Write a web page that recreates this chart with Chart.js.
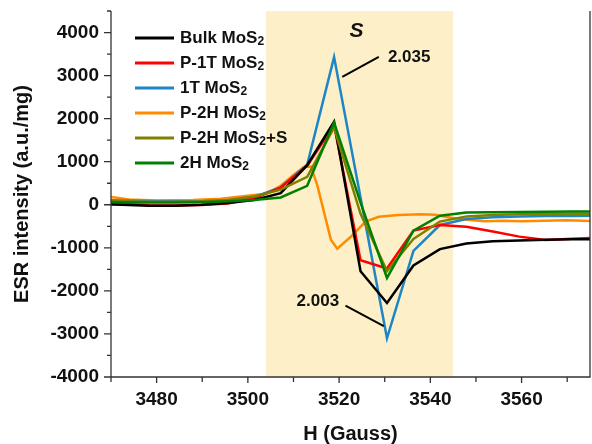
<!DOCTYPE html>
<html>
<head>
<meta charset="utf-8">
<script src="https://cdn.jsdelivr.net/npm/chart.js@4.4.1/dist/chart.umd.min.js"></script>
<style>
html, body { margin: 0; padding: 0; background: #fff; }
</style>
</head>
<body>
<canvas id="esr" width="592" height="444"></canvas>
<script>
// magnetic field (Gauss), shared by most samples
var field = [3466.6, 3472.4, 3478.2, 3484.0, 3489.8, 3495.6, 3501.4, 3507.2, 3513.0, 3518.9,
             3524.7, 3530.5, 3536.3, 3542.1, 3547.9, 3553.7, 3559.5, 3565.3, 3571.1, 3576.9];

var bulk  = [10, 0, -20, -20, 0, 40, 110, 270, 920, 1930, -1545, -2280, -1410, -1030, -900, -850, -830, -815, -800, -800];
var p1T   = [80, 30, -10, -15, -5, 30, 150, 400, 900, 1850, -1290, -1480, -600, -470, -510, -620, -740, -820, -790, -760];
var oneT  = [110, 100, 90, 80, 80, 100, 180, 400, 930, 3430, 170, -3100, -1070, -470, -330, -290, -270, -260, -260, -250];
var p2HS  = [90, 80, 70, 70, 80, 110, 190, 350, 650, 1790, -210, -1540, -795, -390, -270, -240, -220, -215, -210, -210];
var twoH  = [70, 60, 50, 50, 60, 80, 110, 170, 440, 1910, 50, -1700, -600, -255, -180, -175, -170, -160, -155, -155];

// P-2H sample was recorded on a finer field grid
var p2HField = [3466.6, 3470, 3474, 3480, 3488, 3494, 3500, 3504, 3507, 3510, 3512.3, 3513.8, 3515.2, 3518.2,
                3519.6, 3522.5, 3525.8, 3528.7, 3533, 3538, 3541, 3544.6, 3548, 3552, 3556, 3560, 3565, 3570, 3576];
var p2H      = [200, 180, 120, 100, 110, 140, 210, 255, 425, 690, 880, 890, 460, -810,
                -1020, -750, -390, -280, -240, -220, -230, -300, -350, -380, -370, -380, -370, -360, -380];

var names = ['Bulk MoS₂', 'P-1T MoS₂', '1T MoS₂', 'P-2H MoS₂', 'P-2H MoS₂+S', '2H MoS₂'];
var palette = ['#000000', '#ff0000', '#1c86c6', '#ff8c00', '#808000', '#008000'];
var drawOrder = [3, 4, 5, 6, 2, 1];

var xRange = [3470, 3575];
var yRange = [-4000, 4500];
var band = [3504, 3545];

function pts(xs, ys) {
	return ys.map(function (v, i) { return {x: xs[i], y: v}; });
}

var series = [pts(field, bulk), pts(field, p1T), pts(field, oneT), pts(p2HField, p2H), pts(field, p2HS), pts(field, twoH)];

var datasets = [];
for (var i = 0; i < series.length; i++) {
	datasets.push({
		label: names[i],
		data: series[i],
		borderColor: palette[i],
		borderWidth: 2.5,
		pointRadius: 0,
		tension: 0,
		fill: false,
		order: drawOrder[i]
	});
}

var FONT = '"Liberation Sans", Arial, sans-serif';

// text with a lowered small "2" for the subscript
function subText(ctx, text, x, y, size) {
	var parts = text.split('₂');
	ctx.font = 'bold ' + size + 'px ' + FONT;
	ctx.fillText(parts[0], x, y);
	x += ctx.measureText(parts[0]).width;
	if (parts.length > 1) {
		ctx.font = 'bold ' + Math.round(size * 0.68) + 'px ' + FONT;
		ctx.fillText('2', x, y + 4);
		x += ctx.measureText('2').width;
		ctx.font = 'bold ' + size + 'px ' + FONT;
		ctx.fillText(parts[1], x, y);
	}
}

var decor = {
	id: 'decor',
	beforeDatasetsDraw: function (chart) {
		var ctx = chart.ctx, a = chart.chartArea, sx = chart.scales.x;
		var x0 = sx.getPixelForValue(band[0]), x1 = sx.getPixelForValue(band[1]);
		ctx.save();
		ctx.fillStyle = '#fdf0c8';
		ctx.fillRect(x0, a.top, x1 - x0, a.bottom - a.top);
		ctx.restore();
	},
	afterDatasetsDraw: function (chart) {
		var ctx = chart.ctx, a = chart.chartArea, sx = chart.scales.x, sy = chart.scales.y;
		ctx.save();
		// frame: left, bottom, right
		ctx.strokeStyle = '#333';
		ctx.lineWidth = 1.3;
		ctx.beginPath();
		ctx.moveTo(a.left, a.top);
		ctx.lineTo(a.left, a.bottom);
		ctx.lineTo(a.right, a.bottom);
		ctx.lineTo(a.right, a.top);
		ctx.stroke();
		// ticks
		ctx.beginPath();
		for (var v = yRange[0]; v <= yRange[1]; v += 500) {
			var py = sy.getPixelForValue(v), len = (v % 1000 === 0) ? 7 : 4;
			ctx.moveTo(a.left - len, py);
			ctx.lineTo(a.left, py);
		}
		for (var h = xRange[0]; h <= xRange[1]; h += 10) {
			var px = sx.getPixelForValue(h), l2 = (h % 20 === 0) ? 6 : 5;
			ctx.moveTo(px, a.bottom);
			ctx.lineTo(px, a.bottom + l2);
		}
		ctx.stroke();

		// legend
		ctx.textBaseline = 'middle';
		ctx.fillStyle = '#111';
		for (var i = 0; i < names.length; i++) {
			var ly = 38 + i * 25;
			ctx.strokeStyle = palette[i];
			ctx.lineWidth = 3;
			ctx.beginPath();
			ctx.moveTo(135, ly);
			ctx.lineTo(174, ly);
			ctx.stroke();
			subText(ctx, names[i], 180, ly, 17);
		}

		// annotations
		ctx.fillStyle = '#111';
		ctx.font = 'italic bold 21px ' + FONT;
		ctx.textAlign = 'center';
		ctx.fillText('S', sx.getPixelForValue(3523.8), sy.getPixelForValue(4030));
		ctx.font = 'bold 17px ' + FONT;
		ctx.textAlign = 'left';
		ctx.fillText('2.035', sx.getPixelForValue(3530.7), sy.getPixelForValue(3435));
		ctx.textAlign = 'right';
		ctx.fillText('2.003', sx.getPixelForValue(3520), sy.getPixelForValue(-2240));
		ctx.strokeStyle = '#000';
		ctx.lineWidth = 2;
		ctx.beginPath();
		ctx.moveTo(sx.getPixelForValue(3520.7), sy.getPixelForValue(2972));
		ctx.lineTo(sx.getPixelForValue(3528.7), sy.getPixelForValue(3435));
		ctx.moveTo(sx.getPixelForValue(3521.4), sy.getPixelForValue(-2340));
		ctx.lineTo(sx.getPixelForValue(3529.8), sy.getPixelForValue(-2819));
		ctx.stroke();
		ctx.restore();
	}
};

new Chart(document.getElementById('esr').getContext('2d'), {
	type: 'line',
	data: {datasets: datasets},
	options: {
		responsive: false,
		animation: false,
		devicePixelRatio: 1,
		layout: {padding: {top: 11, right: 2, left: 0, bottom: 0}},
		plugins: {legend: {display: false}, tooltip: {enabled: false}},
		scales: {
			x: {
				type: 'linear',
				min: xRange[0],
				max: xRange[1],
				afterFit: function (s) { s.height = 67; s.paddingLeft = 0; s.paddingRight = 0; },
				border: {display: false},
				grid: {drawOnChartArea: false, color: 'rgba(0,0,0,0)', tickLength: 7},
				ticks: {
					stepSize: 10,
					autoSkip: false,
					maxRotation: 0,
					padding: 4,
					color: '#111',
					font: {family: FONT, size: 19, weight: 'bold'},
					callback: function (v) { return v % 20 === 0 ? String(v) : ''; }
				},
				title: {
					display: true,
					text: 'H (Gauss)',
					color: '#111',
					padding: {top: 0, bottom: 0},
					font: {family: FONT, size: 20, weight: 'bold', lineHeight: 1}
				}
			},
			y: {
				type: 'linear',
				min: yRange[0],
				max: yRange[1],
				afterFit: function (s) { s.width = 111; s.paddingTop = 0; s.paddingBottom = 0; },
				border: {display: false},
				grid: {drawOnChartArea: false, color: 'rgba(0,0,0,0)', tickLength: 7},
				ticks: {
					stepSize: 500,
					autoSkip: false,
					padding: 5,
					color: '#111',
					font: {family: FONT, size: 19, weight: 'bold'},
					callback: function (v) { return v % 1000 === 0 ? String(v) : ''; }
				},
				title: {
					display: true,
					text: 'ESR intensity (a.u./mg)',
					color: '#111',
					padding: {top: 12, bottom: 0},
					font: {family: FONT, size: 20, weight: 'bold', lineHeight: 1}
				}
			}
		}
	},
	plugins: [decor]
});
</script>
</body>
</html>
